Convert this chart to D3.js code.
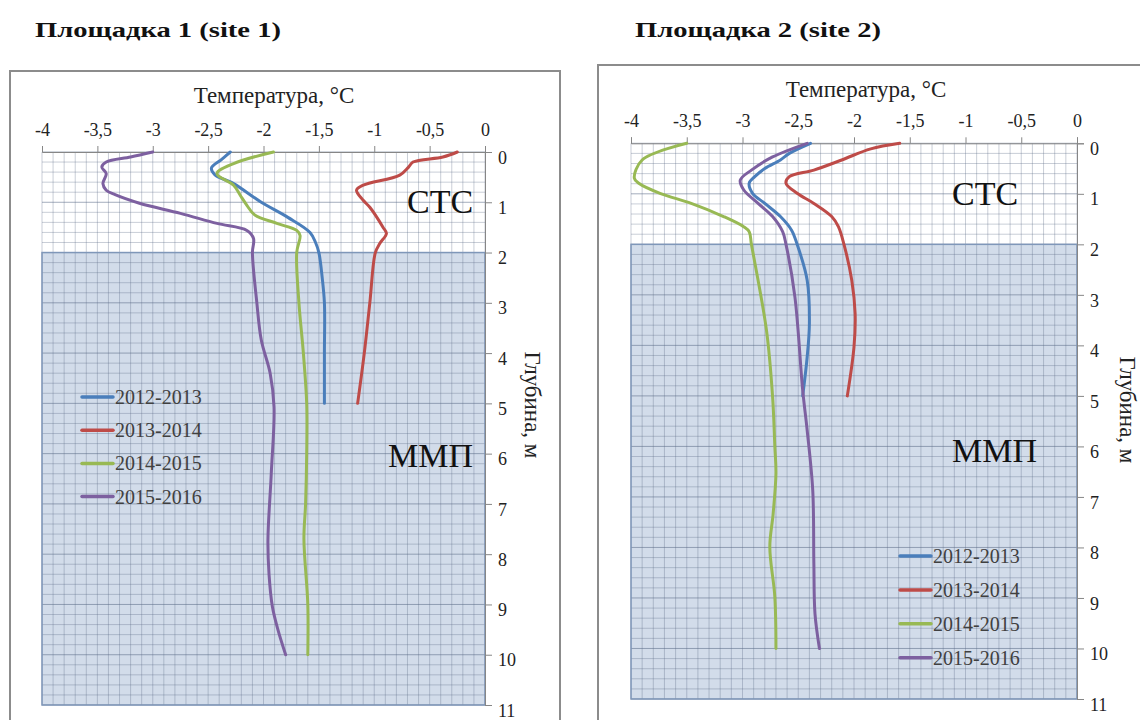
<!DOCTYPE html>
<html lang="ru">
<head>
<meta charset="UTF-8">
<title>Температура грунта, площадки 1 и 2</title>
<style>
  body { margin: 0; background: #fff; }
  svg { display: block; font-family: "Liberation Serif", "Times New Roman", serif; }
  .tick text { font-family: "Liberation Serif", "Times New Roman", serif; font-size: 18px; fill: #222; }
  .tick line, .domain { stroke: #868686; }
</style>
</head>
<body>
<svg width="1140" height="720"></svg>
<script src="https://d3js.org/d3.v7.min.js"></script>
<script>
// seasons and colours (Excel 2010 palette)
const seasons = ["2012-2013", "2013-2014", "2014-2015", "2015-2016"];
const seasonColors = ["#4a7ebb", "#be4b48", "#98b954", "#7d60a0"];
const tempTicks = [-4, -3.5, -3, -2.5, -2, -1.5, -1, -0.5, 0];
const depthTicks = [0, 1, 2, 3, 4, 5, 6, 7, 8, 9, 10, 11];

// [depth m, temperature °C]
const site1_2012 = [[0,-2.30],[0.15,-2.38],[0.32,-2.47],[0.45,-2.44],[0.63,-2.27],[1.0,-2.02],[1.3,-1.78],[1.6,-1.58],[1.8,-1.53],[2,-1.50],[2.5,-1.47],[3,-1.45],[4,-1.45],[5,-1.45]];
const site1_2013 = [[0,-0.25],[0.1,-0.38],[0.2,-0.65],[0.3,-0.69],[0.46,-0.77],[0.66,-1.10],[0.76,-1.16],[0.96,-1.10],[1.1,-1.04],[1.5,-0.92],[1.62,-0.89],[1.82,-0.95],[2,-0.99],[3,-1.04],[4,-1.09],[5,-1.15]];
const site1_2014 = [[0,-1.91],[0.23,-2.27],[0.43,-2.42],[0.66,-2.27],[0.86,-2.21],[1.06,-2.15],[1.25,-2.08],[1.42,-1.88],[1.56,-1.70],[1.66,-1.67],[2,-1.70],[3,-1.68],[4,-1.64],[5,-1.61],[6,-1.61],[7,-1.62],[7.7,-1.635],[9,-1.60],[10,-1.60]];
const site1_2015 = [[0,-3.0],[0.1,-3.2],[0.2,-3.42],[0.3,-3.46],[0.43,-3.42],[0.63,-3.45],[0.76,-3.42],[0.85,-3.34],[1.02,-3.12],[1.22,-2.75],[1.42,-2.42],[1.56,-2.15],[1.72,-2.09],[2,-2.10],[3,-2.06],[3.74,-2.02],[4.4,-1.94],[5.07,-1.905],[6.4,-1.93],[7.72,-1.96],[8.4,-1.95],[9.04,-1.92],[9.5,-1.87],[10,-1.80]];

const site2_2012 = [[0,-2.39],[0.2,-2.58],[0.33,-2.66],[0.5,-2.80],[0.66,-2.89],[0.79,-2.94],[0.99,-2.91],[1.19,-2.80],[1.45,-2.66],[1.72,-2.56],[2,-2.51],[2.71,-2.42],[3.56,-2.40],[4.23,-2.42],[5,-2.46]];
const site2_2013 = [[0,-1.59],[0.11,-1.85],[0.33,-2.11],[0.53,-2.36],[0.66,-2.58],[0.79,-2.61],[0.99,-2.51],[1.19,-2.36],[1.45,-2.20],[1.65,-2.14],[2,-2.09],[2.71,-2.02],[3.37,-1.99],[4.03,-2.00],[5,-2.06]];
const site2_2014 = [[0,-3.5],[0.33,-3.90],[0.69,-3.97],[0.79,-3.93],[0.99,-3.74],[1.19,-3.46],[1.45,-3.17],[1.65,-2.99],[1.75,-2.94],[2,-2.92],[3.7,-2.785],[5.02,-2.73],[6,-2.71],[6.53,-2.70],[7.33,-2.725],[7.99,-2.755],[8.98,-2.71],[10,-2.70]];
const site2_2015 = [[0,-2.42],[0.27,-2.73],[0.53,-2.92],[0.73,-3.02],[0.92,-2.99],[1.19,-2.86],[1.45,-2.73],[1.75,-2.64],[2,-2.61],[3.04,-2.53],[4.89,-2.46],[5.68,-2.42],[6.87,-2.37],[8.32,-2.36],[9.31,-2.35],[10,-2.31]];

const activeLayerBottom = 2; // СТС / ММП boundary, m

const svg = d3.select("svg");
const fmt = d => String(d).replace(".", ",");

function drawPanel(p) {
    const g = svg.append("g");

    // outer frame
    g.append("rect")
        .attr("x", p.frame[0]).attr("y", p.frame[1])
        .attr("width", p.frame[2]).attr("height", p.frame[3])
        .attr("fill", "none").attr("stroke", "#8c8c8c").attr("stroke-width", 2);

    // panel title
    g.append("text")
        .attr("x", p.titleX).attr("y", p.titleY)
        .attr("font-size", 22).attr("font-weight", "bold").attr("fill", "#111")
        .attr("textLength", 246).attr("lengthAdjust", "spacingAndGlyphs")
        .text(p.title);

    const x = d3.scaleLinear().domain([-4, 0]).range([p.left, p.right]);
    const y = d3.scaleLinear().domain([0, 11]).range([p.top, p.bottom]);

    // permafrost zone
    g.append("rect")
        .attr("x", x(-4)).attr("y", y(activeLayerBottom))
        .attr("width", x(0) - x(-4)).attr("height", y(11) - y(activeLayerBottom))
        .attr("fill", "#d2dcea");

    // grid 0.1 °C x 0.2 m
    const gridX = d3.range(-40, 1).map(i => i / 10);
    const gridY = d3.range(0, 56).map(i => i / 5);
    g.append("g").selectAll("line").data(gridX).join("line")
        .attr("x1", d => x(d)).attr("x2", d => x(d))
        .attr("y1", y(0)).attr("y2", y(11))
        .attr("stroke", "#5a6a85").attr("stroke-opacity", 0.33).attr("stroke-width", 1);
    g.append("g").selectAll("line").data(gridY).join("line")
        .attr("x1", x(-4)).attr("x2", x(0))
        .attr("y1", d => y(d)).attr("y2", d => y(d))
        .attr("stroke", "#5a6a85")
        .attr("stroke-opacity", d => Math.abs(d - Math.round(d)) < 1e-6 ? 0.55 : 0.33)
        .attr("stroke-width", 1);

    // permafrost zone border
    g.append("rect")
        .attr("x", x(-4)).attr("y", y(activeLayerBottom))
        .attr("width", x(0) - x(-4)).attr("height", y(11) - y(activeLayerBottom))
        .attr("fill", "none").attr("stroke", "#7f97b9").attr("stroke-width", 1.5);

    // axes
    g.append("g")
        .attr("transform", `translate(0,${p.top})`)
        .call(d3.axisTop(x).tickValues(tempTicks).tickFormat(fmt).tickSize(6).tickPadding(10))
        .attr("font-family", null).attr("font-size", null);
    g.append("g")
        .attr("transform", `translate(${p.right},0)`)
        .call(d3.axisRight(y).tickValues(depthTicks).tickSize(7).tickPadding(6))
        .attr("font-family", null).attr("font-size", null)
        .call(a => a.selectAll("text").attr("dy", "0.62em"));

    // axis titles
    g.append("text")
        .attr("x", p.xTitle[0]).attr("y", p.xTitle[1])
        .attr("text-anchor", "middle").attr("font-size", 23).attr("fill", "#222")
        .text("Температура, °C");
    g.append("text")
        .attr("transform", `translate(${p.yTitle[0]},${p.yTitle[1]}) rotate(90)`)
        .attr("text-anchor", "middle").attr("dy", "0.35em")
        .attr("font-size", 23).attr("fill", "#222")
        .text("Глубина, м");

    // profiles
    const line = d3.line()
        .x(d => x(d[1]))
        .y(d => y(d[0]))
        .curve(d3.curveCatmullRom.alpha(0.5));
    g.append("g").selectAll("path").data(p.series).join("path")
        .attr("d", line)
        .attr("fill", "none")
        .attr("stroke", (d, i) => seasonColors[i])
        .attr("stroke-width", 3)
        .attr("stroke-linecap", "round")
        .attr("stroke-linejoin", "round");

    // zone labels
    g.append("text").attr("x", p.stc[0]).attr("y", p.stc[1])
        .attr("font-size", 34).attr("fill", "#111").text("СТС");
    g.append("text").attr("x", p.mmp[0]).attr("y", p.mmp[1])
        .attr("font-size", 34).attr("fill", "#111").text("ММП");

    // legend
    const leg = g.append("g").selectAll("g").data(seasons).join("g")
        .attr("transform", (d, i) => `translate(${p.legend[0]},${p.legend[1] + i * p.legend[2]})`);
    leg.append("line")
        .attr("x1", 0).attr("x2", 31)
        .attr("stroke", (d, i) => seasonColors[i]).attr("stroke-width", 3.5)
        .attr("stroke-linecap", "round");
    leg.append("text")
        .attr("x", 33).attr("dy", "0.35em")
        .attr("font-size", 20).attr("fill", "#404040")
        .text(d => d);
}

drawPanel({
    title: "Площадка 1 (site 1)", titleX: 35, titleY: 37,
    frame: [10, 71, 550, 680],
    left: 42, right: 485, top: 152, bottom: 705,
    xTitle: [274, 103], yTitle: [533, 405],
    stc: [407, 213], mmp: [388, 467],
    legend: [82, 397, 33.2],
    series: [site1_2012, site1_2013, site1_2014, site1_2015]
});

drawPanel({
    title: "Площадка 2 (site 2)", titleX: 635, titleY: 37,
    frame: [598, 65, 560, 680],
    left: 631, right: 1077, top: 143.3, bottom: 699,
    xTitle: [866, 97], yTitle: [1128, 410],
    stc: [952, 205], mmp: [952, 462],
    legend: [900, 556, 33.9],
    series: [site2_2012, site2_2013, site2_2014, site2_2015]
});
</script>
</body>
</html>
